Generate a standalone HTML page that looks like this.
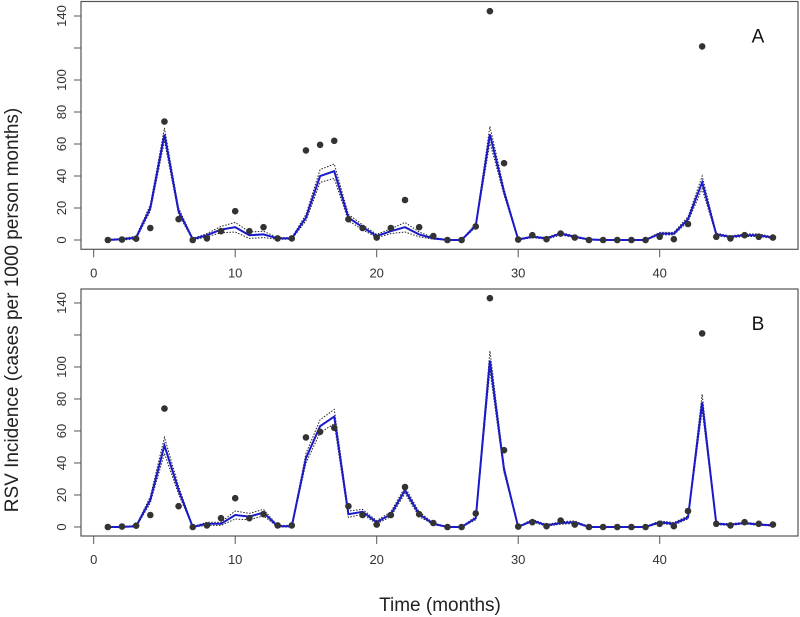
<!DOCTYPE html>
<html><head><meta charset="utf-8"><style>
html,body{margin:0;padding:0;background:#fff;}
svg{display:block;font-family:"Liberation Sans",Arial,sans-serif;}
</style></head><body>
<svg id="chart" width="800" height="617" viewBox="0 0 800 617" xmlns="http://www.w3.org/2000/svg">
<text x="0" y="0" transform="translate(18,310) rotate(-90)" text-anchor="middle" font-size="19" fill="#222">RSV Incidence (cases per 1000 person months)</text>
<text x="440" y="611" text-anchor="middle" font-size="19" fill="#222">Time (months)</text>
</svg>
<script>
const months = [];
for (let i = 1; i <= 48; i++) months.push(i);
const observed = [0,0.3,0.8,7.5,74,13,0,1,5.5,18,5.5,8,1,1,56,59.5,62,13,7.5,1.5,7.5,25,8,2.5,0,0,8.5,143,48,0.3,3,0.5,4,1.5,0,0,0,0,0,2,0.5,10,121,2,1,3,2,1.5];
const fitA = [0,0.5,1.5,20,66,18,0.5,3,6.5,8,3,3.5,1,1,14,40,43,14,8,2.5,5.5,8,3.5,1,0,0,9,66,30,0.3,2,1,4,2,0.3,0,0,0,0,4,4,13,36,3.5,2,3,3,1.5];
const fitB = [0,0,0.5,17,51,23,0,2,2,7.5,6.5,9,0.5,0.5,43,63,69,8,9.5,3,8,23,8,2,0,0,5.5,104,36,0,4,1,2.5,3,0,0,0,0,0,3,2,6,78,2,1.5,2.5,1.5,1];
const ciWidthA = [0.3,0.5,0.8,2,4,2,0.5,1,2,3,2,2,0.5,0.5,2,4,4.5,2,1.5,1,1.5,3,1.5,0.5,0.3,0.3,1,5,2,0.3,0.5,0.5,0.8,0.5,0.3,0.3,0.3,0.3,0.3,0.8,0.8,1.5,4,0.8,0.5,0.8,0.8,0.5];
const ciWidthB = [0.3,0.3,0.5,2,5,2.5,0.3,1,1,2.5,2,2,0.5,0.5,3,4,4.5,2,1.5,1,1.5,2,1.5,0.5,0.3,0.3,1,6,2,0.3,0.8,0.5,0.8,0.8,0.3,0.3,0.3,0.3,0.3,0.8,0.8,1,5,0.5,0.5,0.5,0.5,0.3];
const yTicks = [0,20,40,60,80,100,120,140];
const yTickLabels = ["0","20","40","60","80","100","","140"];
const xTicks = [0,10,20,30,40];

const NS = "http://www.w3.org/2000/svg";
const svg = document.getElementById('chart');
function mk(tag, attrs, parent){const e=document.createElementNS(NS,tag);for(const k in attrs)e.setAttribute(k,attrs[k]);(parent||svg).appendChild(e);return e;}
const xs = m => 93.7 + m*14.15;

function panel(label, zeroY, top, bottom, fit, ci){
  const ys = v => zeroY - v*1.6;
  const g = mk('g',{});
  
  
  const box = mk('rect',{x:81,y:top,width:717,height:bottom-top,fill:'none',stroke:'#555','stroke-width':1.2},g);
  
  
  yTicks.forEach((t,i)=>{
    const y = ys(t);
    const l = mk('line',{x1:74,x2:81,y1:y,y2:y,stroke:'#555'},g);
    
    
    if (yTickLabels[i]) {
      const tx = mk('text',{transform:`translate(66,${y}) rotate(-90)`,'text-anchor':'middle','font-size':13,fill:'#333'},g);
      tx.textContent = yTickLabels[i];
      
      
    }
  });
  xTicks.forEach(t=>{
    const x = xs(t);
    const l = mk('line',{x1:x,x2:x,y1:bottom,y2:bottom+8,stroke:'#555'},g);
    
    
    const tx = mk('text',{x:x,y:bottom+28,'text-anchor':'middle','font-size':13,fill:'#333'},g);
    tx.textContent = t;
    
    
  });
  const pts = arr => arr.map((v,i)=>xs(months[i])+','+ys(v)).join(' ');
  const up = mk('polyline',{points:pts(fit.map((v,i)=>v+ci[i])),fill:'none',stroke:'#222','stroke-width':1,'stroke-dasharray':'1.5,1.5'},g);
  
  
  const lo = mk('polyline',{points:pts(fit.map((v,i)=>Math.max(0,v-ci[i]))),fill:'none',stroke:'#222','stroke-width':1,'stroke-dasharray':'1.5,1.5'},g);
  
  
  const fl = mk('polyline',{points:pts(fit),fill:'none',stroke:'#1a1acc','stroke-width':2},g);
  
  
  observed.forEach((v,i)=>{
    const c = mk('circle',{cx:xs(months[i]),cy:ys(v),r:3.3,fill:'#333'},g);
    
    
  });
  const pl = mk('text',{x:758,y:top+41,'text-anchor':'middle','font-size':19,fill:'#111'},g);
  pl.textContent = label;
  
  
}
panel('A', 240, 1.5, 249.3, fitA, ciWidthA);
panel('B', 527, 289, 536, fitB, ciWidthB);
</script>
</body></html>
